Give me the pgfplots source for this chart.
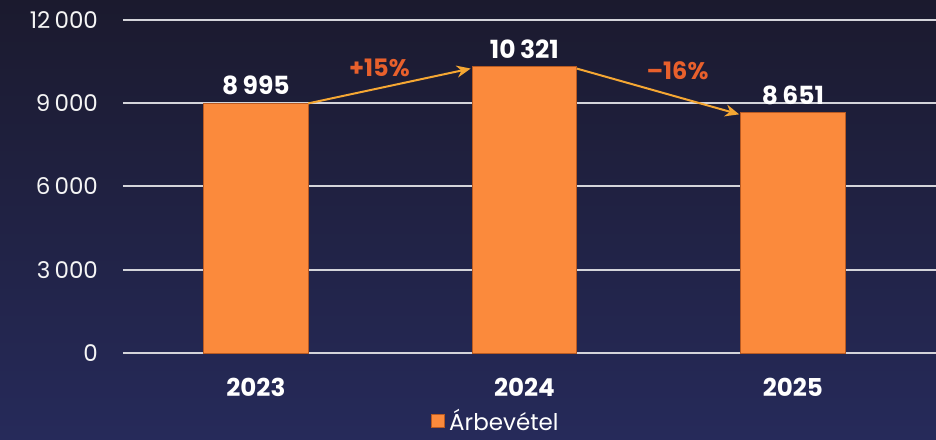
\documentclass[border=0pt]{standalone}
\usepackage{pgfplots}
\pgfplotsset{compat=1.18}
\usetikzlibrary{arrows.meta}
\usepackage{fontspec}
\setmainfont{Poppins}
\definecolor{bgtop}{HTML}{1B1A2E}
\definecolor{bgbot}{HTML}{262A5A}
\definecolor{barorange}{HTML}{FB8A3C}
\definecolor{baredge}{HTML}{B85A22}
\definecolor{pcttext}{HTML}{E8602C}
\definecolor{arrowc}{HTML}{F5A733}
\definecolor{gridc}{HTML}{D4D4DA}
\begin{document}
\begin{tikzpicture}[x=0.5pt,y=0.5pt]
\shade[top color=bgtop,bottom color=bgbot] (0,0) rectangle (936,439);
\useasboundingbox (0,0) rectangle (936,439);
\begin{axis}[
  at={(61.5pt,43pt)}, anchor=south west,
  scale only axis, width=406.5pt, height=166.5pt,
  ybar, bar width=0.39,
  xmin=-0.495, xmax=2.533, ymin=0, ymax=12000,
  xtick=data, xticklabels={2023,2024,2025},
  ytick={0,3000,6000,9000,12000},
  scaled y ticks=false,
  ymajorgrids, grid style={gridc, line width=1pt},
  axis line style={draw=none},
  major tick length=0pt,
  /pgf/number format/assume math mode=true,
  /pgf/number format/1000 sep={\hspace{0.18em}},
  yticklabel style={font=\fontsize{11.5}{13}\selectfont, text=white!92!gray, xshift=-9pt,
     /pgf/number format/fixed, /pgf/number format/precision=0},
  xticklabel style={font=\bfseries\fontsize{12.3}{14}\selectfont, text=white, yshift=-9pt},
  nodes near coords,
  nodes near coords style={font=\bfseries\fontsize{12.5}{14}\selectfont, text=white, yshift=0.5pt,
     /pgf/number format/assume math mode=true, /pgf/number format/1000 sep={\hspace{0.18em}}},
  legend style={at={(0.46,-0.205)}, anchor=center, draw=none, fill=none, text=white,
     font=\fontsize{11.5}{13}\selectfont, inner sep=0pt},
  legend image code/.code={\fill[barorange, draw=baredge] (0pt,-3.2pt) rectangle (6.4pt,3.2pt);},
  clip=false,
]
\addplot[fill=barorange, draw=baredge, line width=0.5pt] coordinates {(0,8995) (1,10321) (2,8651)};
\addlegendentry{Árbevétel}
\draw[arrowc, line width=1pt, -{Stealth[length=7pt,width=6pt]}] (axis cs:0.195,8995) -- (axis cs:0.80,10250);
\draw[arrowc, line width=1pt, -{Stealth[length=7pt,width=6pt]}] (axis cs:1.195,10250) -- (axis cs:1.80,8600);
\node[text=pcttext, font=\bfseries\fontsize{12}{14}\selectfont] at (axis cs:0.46,10270) {+15\%};
\node[text=pcttext, font=\bfseries\fontsize{12}{14}\selectfont] at (axis cs:1.57,10160) {–16\%};
\end{axis}
\end{tikzpicture}
\end{document}
